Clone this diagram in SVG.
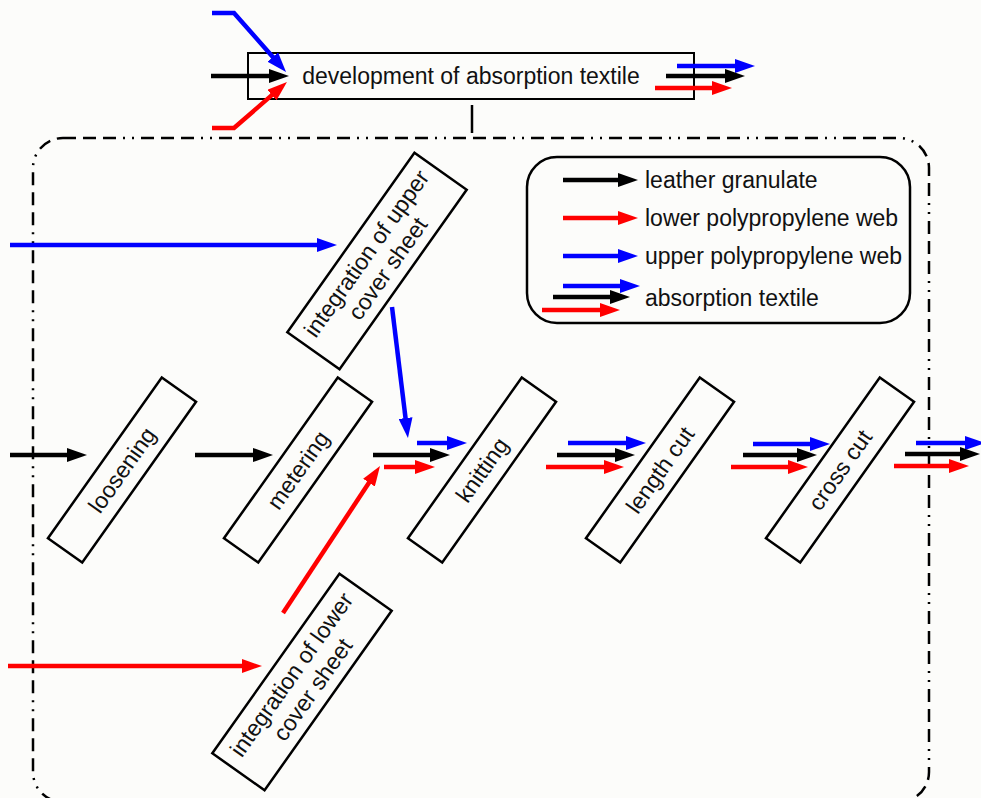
<svg xmlns="http://www.w3.org/2000/svg" width="981" height="798" viewBox="0 0 981 798">
<defs>
<style>
text{font-family:"Liberation Sans",Arial,sans-serif;font-size:23px;fill:#111}
.box{fill:none;stroke:#000;stroke-width:2.5}
.k{stroke:#000;stroke-width:4.5;fill:none}
.r{stroke:#f00;stroke-width:4.5;fill:none}
.b{stroke:#00f;stroke-width:4.5;fill:none}
.k{marker-end:url(#mk)}
.r{marker-end:url(#mr)}
.b{marker-end:url(#mb)}
</style>
<marker id="mk" markerUnits="userSpaceOnUse" markerWidth="20" markerHeight="14" refX="8" refY="7" orient="auto"><path d="M0,0 L20,7 L0,14 z" fill="#000"/></marker>
<marker id="mr" markerUnits="userSpaceOnUse" markerWidth="20" markerHeight="14" refX="8" refY="7" orient="auto"><path d="M0,0 L20,7 L0,14 z" fill="#f00"/></marker>
<marker id="mb" markerUnits="userSpaceOnUse" markerWidth="20" markerHeight="14" refX="8" refY="7" orient="auto"><path d="M0,0 L20,7 L0,14 z" fill="#00f"/></marker>
</defs>
<rect width="981" height="798" fill="#fcfcfa"/>

<g id="boundary">
<rect x="33" y="138" width="896" height="664" rx="30" fill="none" stroke="#000" stroke-width="2.5" stroke-dasharray="13 7 13 7 13 7 2 7 2 7"/>
<line x1="472" y1="105" x2="472" y2="133" stroke="#000" stroke-width="2.5"/>
</g>

<g id="top-node">
<rect x="248" y="53" width="446" height="46" fill="none" stroke="#000" stroke-width="2"/>
<text x="471" y="84" text-anchor="middle">development of absorption textile</text>
</g>

<g id="legend">
<rect x="527" y="157" width="383" height="166" rx="30" fill="none" stroke="#000" stroke-width="2.5"/>
<text x="645" y="188">leather granulate</text>
<text x="645" y="226">lower polypropylene web</text>
<text x="645" y="264">upper polypropylene web</text>
<text x="645" y="306">absorption textile</text>
</g>

<g id="loosening" transform="translate(122,470) rotate(-54.7)">
<rect class="box" x="-98.5" y="-21" width="197" height="42"/>
<text x="0" y="8" text-anchor="middle">loosening</text>
</g>
<g id="metering" transform="translate(298,470) rotate(-54.7)">
<rect class="box" x="-98.5" y="-21" width="197" height="42"/>
<text x="0" y="8" text-anchor="middle">metering</text>
</g>
<g id="knitting" transform="translate(482,470) rotate(-54.7)">
<rect class="box" x="-98.5" y="-21" width="197" height="42"/>
<text x="0" y="8" text-anchor="middle">knitting</text>
</g>
<g id="length-cut" transform="translate(660,470) rotate(-54.7)">
<rect class="box" x="-98.5" y="-21" width="197" height="42"/>
<text x="0" y="8" text-anchor="middle">length cut</text>
</g>
<g id="cross-cut" transform="translate(840,470) rotate(-54.7)">
<rect class="box" x="-98.5" y="-21" width="197" height="42"/>
<text x="0" y="8" text-anchor="middle">cross cut</text>
</g>
<g id="upper-integration" transform="translate(377,261) rotate(-54.7)">
<rect class="box" x="-110" y="-32" width="220" height="64"/>
<text x="0" y="-5" text-anchor="middle">integration of upper</text>
<text x="0" y="21" text-anchor="middle">cover sheet</text>
</g>
<g id="lower-integration" transform="translate(302,682) rotate(-54.7)">
<rect class="box" x="-110" y="-32" width="220" height="64"/>
<text x="0" y="-5" text-anchor="middle">integration of lower</text>
<text x="0" y="21" text-anchor="middle">cover sheet</text>
</g>

<g id="connectors">
<path class="b" d="M212,13 L234,13 L278.1,63"/>
<line class="k" x1="211" y1="76" x2="277" y2="76"/>
<path class="r" d="M212,128 L234,128 L277.9,89.9"/>
<line class="b" x1="677" y1="66" x2="743" y2="66"/>
<line class="k" x1="666" y1="76" x2="733" y2="76"/>
<line class="r" x1="655" y1="88" x2="720" y2="88"/>
<line class="b" x1="10" y1="245" x2="325" y2="245"/>
<line class="b" x1="392" y1="307" x2="406.5" y2="426"/>
<line class="r" x1="8" y1="666" x2="250" y2="666"/>
<line class="r" x1="283" y1="613" x2="373.4" y2="476"/>
<line class="k" x1="10" y1="455" x2="75" y2="455"/>
<line class="k" x1="195" y1="455" x2="261" y2="455"/>
<line class="b" x1="417" y1="443" x2="455" y2="443"/>
<line class="k" x1="373" y1="455" x2="438" y2="455"/>
<line class="r" x1="384" y1="467" x2="423" y2="467"/>
<line class="b" x1="568" y1="443" x2="634" y2="443"/>
<line class="k" x1="557" y1="455" x2="623" y2="455"/>
<line class="r" x1="546" y1="467" x2="612" y2="467"/>
<line class="b" x1="753" y1="444" x2="818" y2="444"/>
<line class="k" x1="743" y1="455" x2="805" y2="455"/>
<line class="r" x1="731" y1="467" x2="796" y2="467"/>
<line class="b" x1="916" y1="443" x2="973" y2="443"/>
<line class="k" x1="905" y1="454" x2="968" y2="454"/>
<line class="r" x1="894" y1="466" x2="957" y2="466"/>
<line class="k" x1="563" y1="180" x2="626" y2="180"/>
<line class="r" x1="563" y1="218" x2="626" y2="218"/>
<line class="b" x1="563" y1="256" x2="626" y2="256"/>
<line class="b" x1="563" y1="286" x2="628" y2="286"/>
<line class="k" x1="553" y1="297" x2="618" y2="297"/>
<line class="r" x1="542" y1="310" x2="608" y2="310"/>
</g>
</svg>
